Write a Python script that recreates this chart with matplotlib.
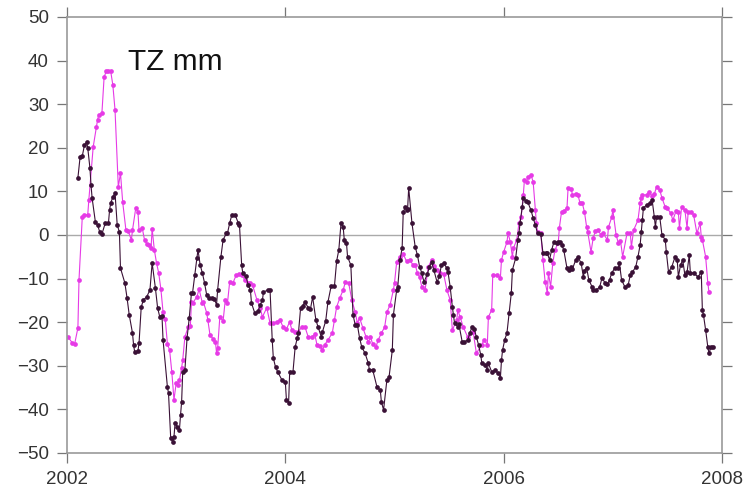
import matplotlib
matplotlib.use("Agg")
import matplotlib.pyplot as plt

# magenta series (decimal year, mm)
t_mag = [2002.01, 2002.05, 2002.07, 2002.10, 2002.11, 2002.14, 2002.16, 2002.19, 2002.20, 2002.24,
         2002.27, 2002.28, 2002.29, 2002.32, 2002.34, 2002.36, 2002.38, 2002.40, 2002.42, 2002.44,
         2002.47, 2002.49, 2002.51, 2002.54, 2002.56, 2002.59, 2002.60, 2002.63, 2002.65, 2002.66,
         2002.69, 2002.71, 2002.73, 2002.75, 2002.77, 2002.78, 2002.80, 2002.82, 2002.84, 2002.86,
         2002.88, 2002.90, 2002.92, 2002.94, 2002.96, 2002.98, 2003.00, 2003.02, 2003.03, 2003.05,
         2003.06, 2003.08, 2003.11, 2003.13, 2003.14, 2003.15, 2003.19, 2003.21, 2003.24, 2003.25,
         2003.28, 2003.29, 2003.31, 2003.34, 2003.36, 2003.37, 2003.38, 2003.40, 2003.43, 2003.45,
         2003.47, 2003.49, 2003.52, 2003.55, 2003.58, 2003.60, 2003.63, 2003.66, 2003.68, 2003.70,
         2003.74, 2003.77, 2003.79, 2003.83, 2003.86, 2003.89, 2003.92, 2003.95, 2003.98, 2004.01,
         2004.04, 2004.06, 2004.09, 2004.12, 2004.15, 2004.18, 2004.21, 2004.24, 2004.27, 2004.29,
         2004.32, 2004.34, 2004.36, 2004.39, 2004.43, 2004.45, 2004.47, 2004.50, 2004.53, 2004.55,
         2004.58, 2004.61, 2004.64, 2004.66, 2004.68, 2004.71, 2004.74, 2004.76, 2004.78, 2004.80,
         2004.83, 2004.85, 2004.88, 2004.91, 2004.93, 2004.96, 2004.99, 2005.00, 2005.02, 2005.05,
         2005.08, 2005.11, 2005.14, 2005.17, 2005.19, 2005.21, 2005.23, 2005.25, 2005.28, 2005.31,
         2005.34, 2005.36, 2005.39, 2005.42, 2005.45, 2005.48, 2005.51, 2005.53, 2005.57, 2005.58,
         2005.60, 2005.63, 2005.67, 2005.72, 2005.75, 2005.80, 2005.82, 2005.85, 2005.86, 2005.89,
         2005.90, 2005.94, 2005.97, 2005.98, 2006.00, 2006.03, 2006.04, 2006.06, 2006.08, 2006.09,
         2006.12, 2006.14, 2006.16, 2006.18, 2006.19, 2006.21, 2006.22, 2006.25, 2006.27, 2006.29,
         2006.30, 2006.31, 2006.34, 2006.36, 2006.38, 2006.40, 2006.41, 2006.43, 2006.45, 2006.47,
         2006.50, 2006.51, 2006.53, 2006.55, 2006.58, 2006.59, 2006.62, 2006.63, 2006.66, 2006.68,
         2006.70, 2006.72, 2006.74, 2006.76, 2006.77, 2006.80, 2006.82, 2006.84, 2006.86, 2006.89,
         2006.91, 2006.95, 2006.96, 2006.99, 2007.00, 2007.03, 2007.05, 2007.07, 2007.09, 2007.13,
         2007.16, 2007.17, 2007.19, 2007.23, 2007.25, 2007.26, 2007.27, 2007.31, 2007.33, 2007.36,
         2007.38, 2007.40, 2007.43, 2007.45, 2007.48, 2007.50, 2007.53, 2007.55, 2007.58, 2007.60,
         2007.61, 2007.63, 2007.66, 2007.68, 2007.69, 2007.72, 2007.74, 2007.77, 2007.80, 2007.81,
         2007.82, 2007.85, 2007.87, 2007.88]
v_mag = [-23.4, -24.8, -25.0, -21.3, -10.3, 4.1, 4.6, 4.6, 8.0, 20.2,
         24.8, 26.4, 27.5, 28.0, 36.2, 37.6, 37.6, 37.6, 34.4, 28.7,
         11.0, 14.2, 7.6, 1.1, 0.9, -1.1, 1.1, 6.2, 5.3, 1.1,
         1.5, -1.1, -2.0, -2.3, -3.0, 1.4, -3.4, -6.4, -8.7, -12.4,
         -17.7, -19.3, -25.0, -26.4, -31.4, -37.8, -34.0, -34.5, -33.3, -30.5,
         -28.7, -23.4, -21.1, -20.9, -15.4, -15.6, -14.2, -12.4, -15.6, -15.4,
         -17.9, -19.5, -22.9, -23.9, -24.5, -27.1, -26.0, -18.8, -19.7, -14.9,
         -15.6, -10.8, -11.0, -9.2, -8.9, -9.2, -10.3, -11.0, -11.0, -11.5,
         -14.9, -16.7, -18.8, -16.7, -20.2, -20.2, -19.9, -19.5, -21.1, -21.6,
         -19.9, -21.8, -22.2, -22.2, -21.1, -21.1, -23.4, -23.4, -22.8, -25.2,
         -25.5, -26.4, -25.2, -24.1, -22.5, -19.5, -16.5, -14.4, -12.6, -10.8,
         -11.0, -15.0, -17.7, -20.2, -19.0, -21.3, -23.4, -24.5, -23.4, -25.0,
         -25.7, -24.1, -22.5, -21.1, -17.7, -16.0, -12.6, -11.0, -6.2, -5.0,
         -4.4, -6.0, -5.7, -6.9, -6.9, -8.7, -9.6, -11.9, -12.6, -7.3,
         -5.7, -7.0, -8.0, -8.7, -8.9, -12.6, -14.9, -21.8, -19.5, -17.2,
         -18.8, -21.1, -23.4, -22.2, -27.1, -25.2, -24.0, -25.2, -18.8, -17.2,
         -9.2, -9.2, -9.8, -5.7, -3.9, -1.6, 0.4, -1.5, -5.0, -3.0,
         -1.1, 2.7, 4.1, 9.2, 12.6, 12.2, 13.3, 13.8, 12.2, 5.7,
         2.7, 0.7, 0.5, -5.7, -10.8, -13.3, -8.7, -11.9, -6.4, -3.4,
         -1.8, 1.6, 5.3, 5.5, 6.2, 10.8, 10.5, 9.2, 9.5, 9.2,
         7.3, 7.3, 5.3, 1.8, 0.7, -3.9, -0.7, 0.9, 1.2, 0.1,
         0.4, -1.1, 1.8, 4.1, 5.7, 0.0, -1.8, -1.3, -5.0, 0.4,
         0.4, -2.8, 1.1, 3.4, 7.3, 8.5, 9.2, 9.2, 9.9, 8.9,
         9.4, 11.0, 10.3, 8.5, 6.4, 6.1, 5.0, 3.4, 5.6, 5.3,
         1.6, 6.4, 5.7, 1.6, 5.3, 5.3, 4.6, 0.4, 2.7, -0.5,
         -1.1, -5.0, -11.0, -13.0]

# dark purple series (decimal year, mm)
t_pur = [2002.10, 2002.12, 2002.14, 2002.16, 2002.18, 2002.19, 2002.21, 2002.22, 2002.23, 2002.26,
         2002.28, 2002.30, 2002.32, 2002.35, 2002.38, 2002.39, 2002.40, 2002.42, 2002.44, 2002.46,
         2002.48, 2002.49, 2002.53, 2002.55, 2002.57, 2002.60, 2002.61, 2002.62, 2002.65, 2002.66,
         2002.68, 2002.70, 2002.73, 2002.76, 2002.78, 2002.81, 2002.83, 2002.85, 2002.87, 2002.88,
         2002.92, 2002.93, 2002.95, 2002.97, 2002.98, 2002.99, 2003.01, 2003.03, 2003.04, 2003.05,
         2003.06, 2003.08, 2003.10, 2003.12, 2003.14, 2003.15, 2003.17, 2003.19, 2003.20, 2003.22,
         2003.24, 2003.26, 2003.28, 2003.30, 2003.33, 2003.35, 2003.37, 2003.38, 2003.41, 2003.43,
         2003.46, 2003.47, 2003.49, 2003.51, 2003.54, 2003.57, 2003.58, 2003.60, 2003.61, 2003.64,
         2003.66, 2003.68, 2003.69, 2003.72, 2003.75, 2003.77, 2003.79, 2003.80, 2003.84, 2003.86,
         2003.88, 2003.89, 2003.91, 2003.93, 2003.97, 2004.00, 2004.01, 2004.03, 2004.04, 2004.07,
         2004.09, 2004.11, 2004.12, 2004.14, 2004.16, 2004.18, 2004.21, 2004.23, 2004.25, 2004.28,
         2004.30, 2004.33, 2004.34, 2004.37, 2004.39, 2004.42, 2004.45, 2004.47, 2004.49, 2004.51,
         2004.53, 2004.54, 2004.56, 2004.57, 2004.60, 2004.62, 2004.64, 2004.66, 2004.68, 2004.70,
         2004.73, 2004.76, 2004.77, 2004.80, 2004.84, 2004.87, 2004.88, 2004.90, 2004.93, 2004.95,
         2004.98, 2004.99, 2005.02, 2005.03, 2005.05, 2005.07, 2005.08, 2005.10, 2005.11, 2005.12,
         2005.13, 2005.16, 2005.19, 2005.21, 2005.23, 2005.25, 2005.27, 2005.30, 2005.32, 2005.34,
         2005.36, 2005.39, 2005.41, 2005.43, 2005.45, 2005.48, 2005.49, 2005.51, 2005.53, 2005.54,
         2005.55, 2005.58, 2005.59, 2005.62, 2005.64, 2005.67, 2005.69, 2005.71, 2005.73, 2005.75,
         2005.77, 2005.79, 2005.80, 2005.83, 2005.85, 2005.86, 2005.89, 2005.92, 2005.95, 2005.97,
         2005.98, 2005.99, 2006.01, 2006.03, 2006.05, 2006.07, 2006.08, 2006.11, 2006.13, 2006.14,
         2006.15, 2006.17, 2006.18, 2006.20, 2006.22, 2006.25, 2006.27, 2006.29, 2006.31, 2006.34,
         2006.36, 2006.39, 2006.40, 2006.42, 2006.44, 2006.46, 2006.49, 2006.50, 2006.52, 2006.53,
         2006.55, 2006.58, 2006.60, 2006.62, 2006.63, 2006.66, 2006.68, 2006.71, 2006.73, 2006.74,
         2006.76, 2006.78, 2006.81, 2006.82, 2006.85, 2006.88, 2006.90, 2006.93, 2006.95, 2006.97,
         2006.99, 2007.02, 2007.05, 2007.06, 2007.08, 2007.11, 2007.14, 2007.16, 2007.18, 2007.21,
         2007.23, 2007.25, 2007.26, 2007.27, 2007.28, 2007.31, 2007.34, 2007.36, 2007.38, 2007.39,
         2007.40, 2007.43, 2007.45, 2007.48, 2007.49, 2007.51, 2007.54, 2007.57, 2007.59, 2007.60,
         2007.62, 2007.64, 2007.66, 2007.68, 2007.70, 2007.71, 2007.74, 2007.78, 2007.81, 2007.82,
         2007.83, 2007.85, 2007.87, 2007.88, 2007.90, 2007.92]
v_pur = [13.1, 17.9, 18.1, 20.6, 21.3, 20.0, 15.4, 11.5, 8.5, 3.0,
         2.3, 0.7, 0.2, 2.7, 2.8, 5.7, 7.3, 8.7, 9.6, 2.3,
         0.7, -7.6, -11.0, -14.4, -18.3, -22.5, -25.2, -26.8, -26.6, -24.8,
         -16.5, -14.9, -14.2, -12.6, -6.4, -12.2, -16.7, -18.8, -18.5, -24.1,
         -34.9, -36.3, -46.6, -47.5, -46.3, -43.1, -44.0, -44.7, -41.3, -38.3,
         -31.4, -31.0, -23.6, -19.0, -13.3, -13.3, -9.2, -5.3, -3.4, -6.9,
         -8.7, -11.0, -13.8, -14.4, -14.4, -14.7, -16.0, -12.6, -5.0, -1.1,
         0.4, 0.4, 2.7, 4.6, 4.6, 2.7, 2.3, -6.9, -8.7, -9.5,
         -11.5, -12.6, -15.6, -17.9, -17.5, -16.0, -14.9, -13.1, -12.6, -12.6,
         -24.1, -28.2, -30.3, -31.4, -33.3, -33.7, -37.8, -38.5, -31.4, -31.4,
         -25.7, -23.6, -22.5, -16.7, -16.2, -15.4, -16.7, -17.0, -14.2, -19.5,
         -21.1, -23.4, -22.2, -19.7, -15.4, -11.7, -11.7, -6.0, -3.4, 2.7,
         1.8, -1.1, -1.8, -5.0, -6.9, -18.3, -20.6, -20.6, -23.6, -25.7,
         -27.1, -29.4, -30.9, -30.9, -34.9, -35.6, -38.3, -40.1, -33.3, -32.6,
         -26.4, -18.3, -12.6, -11.9, -5.7, -3.0, 5.3, 6.4, 5.8, 6.0,
         10.8, 2.7, -2.8, -4.6, -7.3, -8.7, -10.8, -9.0, -7.3, -6.2,
         -8.0, -10.8, -9.5, -6.9, -6.5, -7.6, -8.5, -11.9, -16.5, -18.3,
         -20.2, -21.1, -20.5, -24.5, -24.5, -24.1, -22.5, -21.1, -21.5, -23.4,
         -25.2, -27.5, -29.4, -29.8, -31.0, -29.4, -31.4, -31.0, -31.7, -32.8,
         -28.7, -26.4, -24.0, -22.5, -17.9, -13.3, -8.0, -5.3, -1.1, 0.4,
         2.7, 6.4, 8.5, 7.8, 7.6, 5.7, 3.9, 2.3, 0.4, 0.2,
         -4.2, -4.2, -4.2, -5.7, -3.4, -1.6, -1.9, -1.6, -1.6, -2.2,
         -3.4, -7.6, -8.0, -7.3, -7.8, -5.7, -5.0, -6.5, -9.6, -8.2,
         -7.5, -10.3, -11.9, -12.6, -12.6, -11.9, -9.9, -11.0, -11.3, -10.3,
         -8.7, -7.5, -7.6, -6.4, -10.3, -11.9, -11.5, -9.2, -8.5, -7.3,
         -5.0, -2.3, 0.7, 3.4, 6.2, 6.9, 7.3, 8.0, 4.1, 1.8,
         4.1, 4.1, 0.0, -1.1, -3.9, -8.5, -7.3, -5.0, -5.8, -9.6,
         -6.9, -5.7, -9.2, -8.5, -4.6, -8.7, -8.7, -9.6, -8.5, -17.2,
         -18.3, -21.8, -25.7, -27.1, -25.7, -25.7]

x_ticks = [2002, 2004, 2006, 2008]
y_ticks = list(range(-50, 51, 10))

plt.rcParams['font.family'] = ['Liberation Sans', 'DejaVu Sans']

fig = plt.figure(figsize=(7.51, 4.94), dpi=100)
ax = fig.add_axes([0.0892, 0.083, 0.8722, 0.8826])

ax.axhline(0, color='#aaaaaa', lw=1.0, zorder=1)
ax.plot(t_mag, v_mag, '-o', color='#e63ae6', lw=0.8, ms=3.4, mew=0, zorder=2)
ax.plot(t_pur, v_pur, '-o', color='#3a1136', lw=0.8, ms=3.4, mew=0, zorder=3)

ax.set_xlim(2002, 2008)
ax.set_ylim(-50, 50)
ax.set_xticks(x_ticks)
ax.set_yticks(y_ticks)

for s in ax.spines.values():
    s.set_color('#999999')
    s.set_linewidth(1.2)

ax.tick_params(direction='out', length=7, width=0.9, color='#777777',
               labelsize=13.5, labelcolor='#333333', pad=6,
               top=True, right=True, labeltop=False, labelright=False)

ax.text(0.093, 0.897, 'TZ mm', transform=ax.transAxes, fontsize=21.5,
        color='#111111', ha='left', va='center')

fig.savefig('out.png', dpi=100)
